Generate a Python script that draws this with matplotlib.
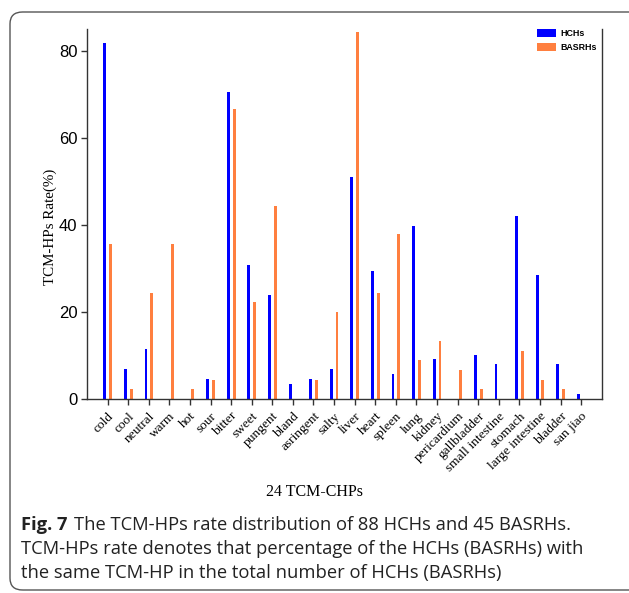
import matplotlib
matplotlib.use("Agg")
import matplotlib.pyplot as plt
import numpy as np
from matplotlib.patches import FancyBboxPatch

categories = ["cold", "cool", "neutral", "warm", "hot", "sour", "bitter", "sweet",
              "pungent", "bland", "asringent", "salty", "liver", "heart", "spleen",
              "lung", "kidney", "pericardium", "gallbladder", "small intestine",
              "stomach", "large intestine", "bladder", "san jiao"]
hchs = [81.8, 6.8, 11.4, 0, 0, 4.5, 70.5, 30.7, 23.9, 3.4, 4.5, 6.8, 51.1, 29.5,
        5.7, 39.8, 9.1, 0, 10.2, 8.0, 42.0, 28.4, 8.0, 1.1]
basrhs = [35.6, 2.2, 24.4, 35.6, 2.2, 4.4, 66.7, 22.2, 44.4, 0, 4.4, 20.0, 84.4, 24.4,
          37.8, 8.9, 13.3, 6.7, 2.2, 0, 11.1, 4.4, 2.2, 0]
series_names = ["HCHs", "BASRHs"]
yticks = [0, 20, 40, 60, 80]

W, H = 629, 593
fig = plt.figure(figsize=(W / 100, H / 100), dpi=100)

# rounded frame
frame = FancyBboxPatch((10 / W, 3 / H), 640 / W, (H - 12 - 3) / H,
                       boxstyle="round,pad=0,rounding_size=0.02",
                       transform=fig.transFigure, facecolor="none",
                       edgecolor="#555555", linewidth=1.0, clip_on=False)
fig.patches.append(frame)

ax = fig.add_axes([87 / W, 1 - 399 / H, (601.7 - 87) / W, (399 - 29) / H])
x = np.arange(len(categories))
bw = 0.14
ax.bar(x - 0.135, hchs, width=bw, color="#0000ff", label=series_names[0])
ax.bar(x + 0.145, basrhs, width=bw, color="#ff7f3f", label=series_names[1])

ax.set_xlim(-1, 24)
ax.set_ylim(0, 85)
ax.spines["top"].set_visible(False)
for s in ["left", "bottom", "right"]:
    ax.spines[s].set_color("#333333")
    ax.spines[s].set_linewidth(1.0)

ax.set_yticks(yticks)
ax.set_yticklabels([str(v) for v in yticks], family="Liberation Sans", fontsize=12)
ax.tick_params(axis="y", direction="out", length=4, width=1, color="#333333", pad=3)
ax.set_xticks(x)
ax.set_xticklabels(categories, rotation=45, ha="right", rotation_mode="anchor",
                   family="Liberation Serif", fontsize=9.6)
ax.tick_params(axis="x", direction="out", length=4, width=1, color="#333333", pad=4)

ax.set_ylabel("TCM-HPs Rate(%)", family="Liberation Serif", fontsize=10.8)
ax.yaxis.set_label_coords(-0.058, 0.465)

fig.text(314 / W, 1 - 492 / H, "24 TCM-CHPs", family="Liberation Serif",
         fontsize=11.5, ha="center", va="center")

leg = ax.legend(loc="upper right", bbox_to_anchor=(0.993, 1.005), frameon=False,
                prop={"family": "Liberation Sans", "weight": "bold", "size": 6.4},
                handlelength=2.1, handleheight=1.0, handletextpad=0.45,
                labelspacing=0.55, borderaxespad=0.0, borderpad=0.2)

# caption
cap_font = dict(family="Open Sans", fontsize=13.2, color="#222222")
x0 = 21 / W
t1 = fig.text(x0, 1 - 525 / H, "Fig. 7", fontweight="bold", va="center", **cap_font)
fig.canvas.draw()
bb = t1.get_window_extent()
fig.text(bb.x1 / W + 7 / W, 1 - 525 / H,
         "The TCM-HPs rate distribution of 88 HCHs and 45 BASRHs.",
         va="center", **cap_font)
fig.text(x0, 1 - 549 / H,
         "TCM-HPs rate denotes that percentage of the HCHs (BASRHs) with",
         va="center", **cap_font)
fig.text(x0, 1 - 573 / H,
         "the same TCM-HP in the total number of HCHs (BASRHs)",
         va="center", **cap_font)

fig.savefig("out.png", dpi=100)
